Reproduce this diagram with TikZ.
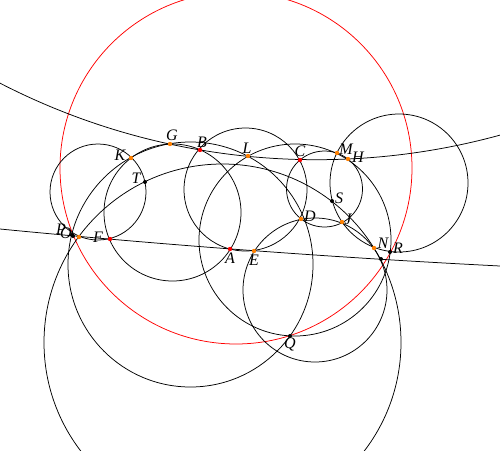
\documentclass[tikz,border=0pt]{standalone}
\usepackage{fontspec}
\setmainfont{Liberation Serif}
\begin{document}
\begin{tikzpicture}[x=1pt,y=-1pt,
  curve/.style={line width=0.75pt, black},
  redcurve/.style={line width=0.75pt, red},
  lbl/.style={font=\fontsize{16}{16}\selectfont\itshape, inner sep=0pt},
  rdot/.style={fill=red},
  odot/.style={fill=orange},
  bdot/.style={fill=black}]
\useasboundingbox (0,0) rectangle (500,450);
\fill[white] (0,0) rectangle (500,450);
\begin{scope}
\clip (0,0) rectangle (500,450);
% red circle
\draw[redcurve] (236,168) circle (176pt);
% black circles
\draw[curve] (98,192) circle (48pt);
\draw[curve] (172.5,212.5) circle (68.5pt);
\draw[curve] (245.5,189.5) circle (61.5pt);
\draw[curve] (324.5,189) circle (38pt);
\draw[curve] (399,183) circle (69pt);
\draw[curve] (222.5,342.5) circle (178.5pt);
\draw[curve] (190.5,264.5) circle (122.5pt);
\draw[curve] (315,290) circle (72pt);
\draw[curve] (295,240) circle (96pt);
% top great arc
\draw[curve] (316.6,-532) circle (691.7pt);
% bottom nearly straight arc
\coordinate (bl) at (0,229);
\coordinate (br) at (500,266);
\draw[curve] (bl) .. controls (166.7,245.2) and (333.3,257.5) .. (br);
\end{scope}
% points
\coordinate (G) at (170,144);
\coordinate (B) at (200,150);
\coordinate (L) at (248,156);
\coordinate (C) at (300,160);
\coordinate (M) at (337,153);
\coordinate (H) at (348,159);
\coordinate (K) at (131,158);
\coordinate (T) at (145,182);
\coordinate (S) at (332,201);
\coordinate (D) at (301,219);
\coordinate (J) at (342,222);
\coordinate (P) at (72,235);
\coordinate (O) at (73,236);
\coordinate (X) at (79,237);
\coordinate (F) at (110,239);
\coordinate (A) at (230,249);
\coordinate (E) at (254,251);
\coordinate (N) at (374,248);
\coordinate (R) at (390,252);
\coordinate (Y) at (381,259);
\coordinate (Q) at (290,336);
\foreach \p in {B,C,F,A} \fill[rdot] (\p) circle (2.2pt);
\foreach \p in {G,L,M,H,K,D,J,X,E,N} \fill[odot] (\p) circle (2.2pt);
\foreach \p in {T,S,P,O,R,Y,Q} \fill[bdot] (\p) circle (2pt);
% labels
\node[lbl] (lG) at (172,135) {G};
\node[lbl] (lB) at (202,142) {B};
\node[lbl] (lL) at (247,148) {L};
\node[lbl] (lC) at (300,151) {C};
\node[lbl] (lM) at (346,149) {M};
\node[lbl] (lH) at (358,157) {H};
\node[lbl] (lK) at (120,155) {K};
\node[lbl] (lT) at (136,178) {T};
\node[lbl] (lS) at (339,198) {S};
\node[lbl] (lD) at (310,216) {D};
\node[lbl] (lJ) at (348,219) {J};
\node[lbl] (lN) at (383,243) {N};
\node[lbl] (lR) at (398,248) {R};
\node[lbl] (lA) at (230,258) {A};
\node[lbl] (lE) at (254,260) {E};
\node[lbl] (lQ) at (290,344) {Q};
\node[lbl] (lF) at (98,237) {F};
\node[lbl] (lP) at (61,229) {P};
\node[lbl] (lO) at (66,233) {O};
\end{tikzpicture}
\end{document}
